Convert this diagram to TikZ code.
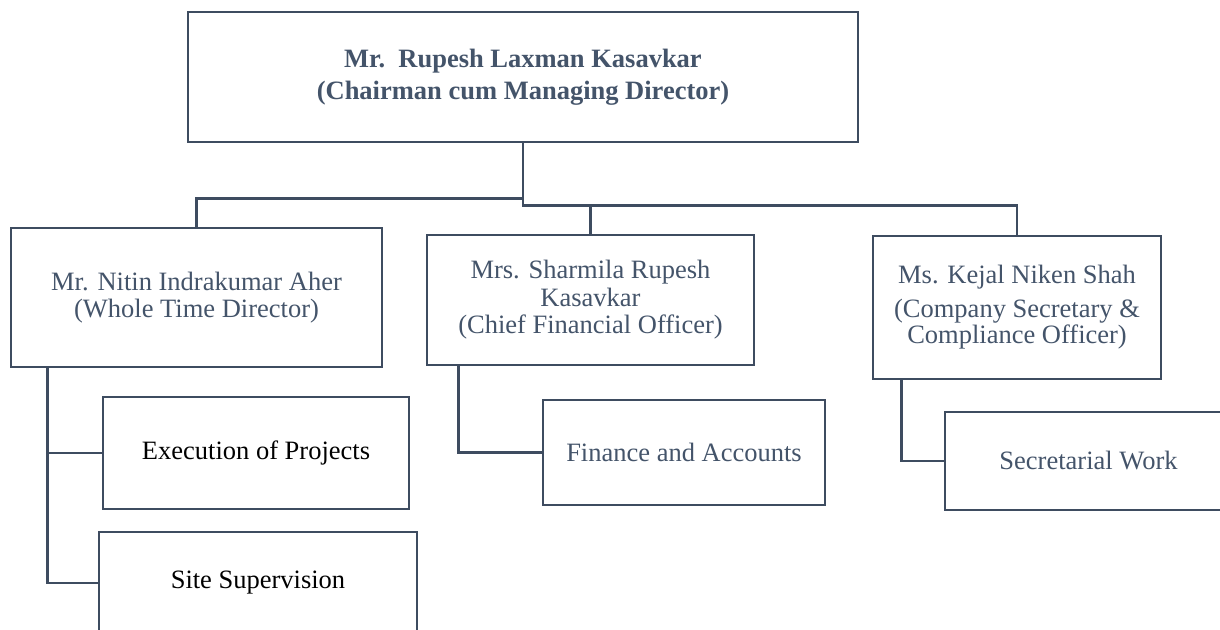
\documentclass[tikz,border=0pt]{standalone}
\usepackage{fontspec}
\setmainfont{Liberation Serif}
\usetikzlibrary{positioning}
\definecolor{slate}{HTML}{44546A}
\definecolor{wire}{HTML}{3E4C60}
\tikzset{
  orgbox/.style={draw=wire, line width=2.8pt, fill=white, text=slate, align=center,
    inner sep=0pt, font=\fontsize{26.5}{27.5}\selectfont},
  link/.style={draw=wire, line width=2.8pt}
}
\begin{document}
\begin{tikzpicture}[x=1pt, y=-1pt]
\path[use as bounding box, clip] (0,0) rectangle (1220,629);
\fill[white] (0,0) rectangle (1220,629);

% chairman
\node[orgbox, minimum width=670, minimum height=130, font=\fontsize{26.5}{32}\selectfont\bfseries]
  (chair) at (523,77) {Mr.\ \ Rupesh Laxman Kasavkar\\(Chairman cum Managing Director)};

% directors and officers
\node[orgbox, minimum width=371, minimum height=139] (wtd) at (196.5,297.5)
  {Mr. Nitin Indrakumar Aher\\(Whole Time Director)};
\node[orgbox, minimum width=327, minimum height=130] (cfo) at (590.5,300)
  {Mrs. Sharmila Rupesh\\Kasavkar\\(Chief Financial Officer)};
\node[orgbox, minimum width=288, minimum height=143, font=\fontsize{26.5}{26.5}\selectfont] (cs) at (1017,307.5)
  {Ms. Kejal Niken Shah\\[7pt](Company Secretary \&\\Compliance Officer)};

% functions
\node[orgbox, text=black, minimum width=306, minimum height=112] (exec) at (256,453)
  {Execution of Projects};
\node[orgbox, text=black, minimum width=318, minimum height=102] (site) at (258,583)
  {Site Supervision};
\node[orgbox, minimum width=282, minimum height=105] (fin) at (684,452.5)
  {Finance and Accounts};
\node[orgbox, minimum width=287, minimum height=98] (sec) at (1088.5,461)
  {Secretarial Work};

% reporting lines from the chairman
\draw[link] (chair.south) -- ++(0,55) -| (wtd.north);
\draw[link] (chair.south) -- ++(0,62) -| (cfo.north);
\draw[link] (chair.south) -- ++(0,62) -| (cs.north);

% reporting lines to the functions
\draw[link] ([xshift=38pt]wtd.south west) |- (exec.west);
\draw[link] ([xshift=38pt]wtd.south west) |- (site.west);
\draw[link] ([xshift=33pt]cfo.south west) |- (fin.west);
\draw[link] ([xshift=30pt]cs.south west) |- (sec.west);
\end{tikzpicture}
\end{document}
